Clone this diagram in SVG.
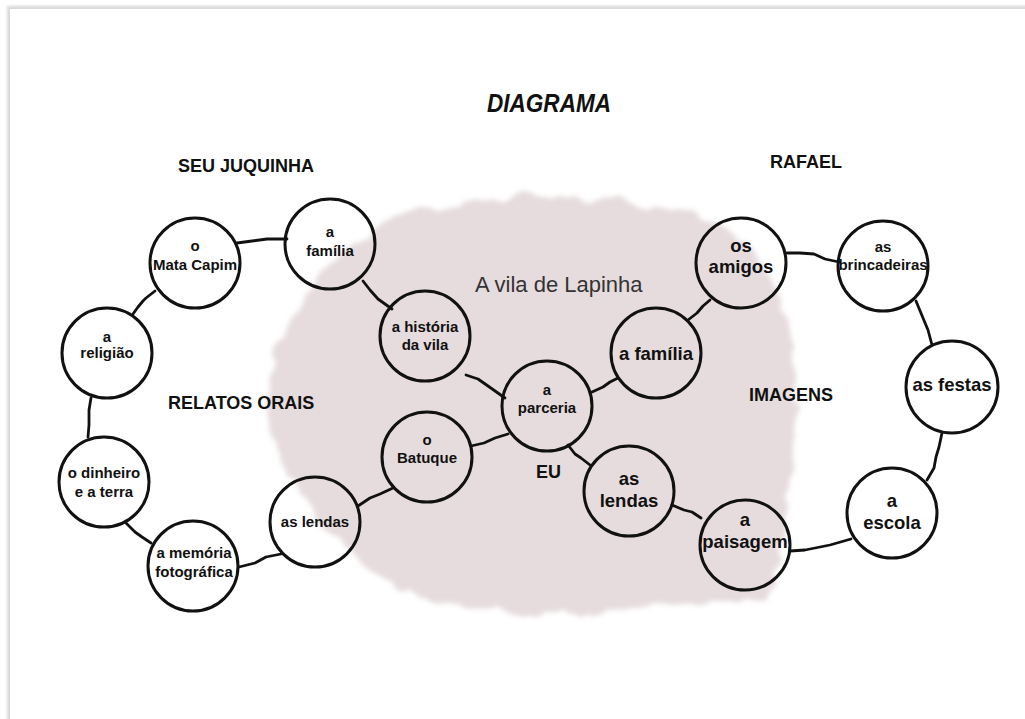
<svg xmlns="http://www.w3.org/2000/svg" width="1025" height="719" viewBox="0 0 1025 719">
<defs>
<filter id="soft" x="-10%" y="-10%" width="120%" height="120%">
<feTurbulence type="fractalNoise" baseFrequency="0.035" numOctaves="3" seed="4" result="t"/>
<feDisplacementMap in="SourceGraphic" in2="t" scale="20" xChannelSelector="R" yChannelSelector="G" result="d"/>
<feGaussianBlur in="d" stdDeviation="2.5"/>
</filter>
<filter id="sh" x="-5%" y="-5%" width="110%" height="110%"><feGaussianBlur stdDeviation="1.5"/></filter>
<style>
.n{fill:none;stroke:#111;stroke-width:3}
.c{fill:none;stroke:#111;stroke-width:2.8;stroke-linejoin:round;stroke-linecap:round}
.s{font-family:"Liberation Sans",Arial,sans-serif;font-weight:bold;font-size:15px;fill:#111;text-anchor:middle}
.b{font-family:"Liberation Sans",Arial,sans-serif;font-weight:bold;font-size:18.5px;fill:#111;text-anchor:middle}
.h{font-family:"Liberation Sans",Arial,sans-serif;font-weight:bold;font-size:18px;fill:#111}
</style>
</defs>
<rect x="0" y="0" width="1025" height="719" fill="#ffffff"/>
<rect x="7" y="6" width="1030" height="730" fill="#d8d8d8" filter="url(#sh)"/>
<rect x="10" y="9" width="1020" height="720" fill="#ffffff"/>
<path d="M385 220 C420 210 445 206 470 204 C500 196 540 194 580 198 C620 200 660 205 690 212 C720 220 745 235 765 270 C785 300 793 340 796 400 C798 450 790 500 780 540 C775 570 772 590 765 600 C730 604 690 600 650 606 C600 614 550 616 505 612 C460 608 430 602 400 592 C375 580 355 555 330 528 C305 505 285 480 277 450 C270 420 268 400 272 370 C278 325 318 265 385 220 Z" fill="#e6dcdd" filter="url(#soft)"/>
<text x="549" y="112" font-family="'Liberation Sans',Arial,sans-serif" font-weight="bold" font-style="italic" font-size="25" textLength="124" lengthAdjust="spacingAndGlyphs" text-anchor="middle" fill="#111">DIAGRAMA</text>
<text class="h" x="178" y="172">SEU JUQUINHA</text>
<text class="h" x="770" y="168">RAFAEL</text>
<text class="h" x="168" y="409">RELATOS ORAIS</text>
<text class="h" x="749" y="401">IMAGENS</text>
<text class="h" x="536" y="478" font-size="17">EU</text>
<text x="475" y="292" font-family="'Liberation Sans',Arial,sans-serif" font-size="22" fill="#333">A vila de Lapinha</text>
<g id="connectors">
<polyline class="c" points="237,243 252,241 267,239 287,239"/>
<polyline class="c" points="155,291 146,298 143,301 138,307 133,314"/>
<polyline class="c" points="91,398 89,410 89,425 88,437"/>
<polyline class="c" points="126,523 135,532 142,537 151,543"/>
<polyline class="c" points="239,567 255,563 266,557 281,554"/>
<polyline class="c" points="358,506 370,498 380,494 393,488"/>
<polyline class="c" points="363,281 370,290 378,299 392,309"/>
<polyline class="c" points="466,375 478,379 488,386 505,398"/>
<polyline class="c" points="471,446 484,443 495,438 508,434"/>
<polyline class="c" points="592,392 603,387 610,382 618,378"/>
<polyline class="c" points="688,320 697,313 703,306 710,300"/>
<polyline class="c" points="568,445 575,454 581,458 590,465"/>
<polyline class="c" points="672,505 684,510 692,512 701,518"/>
<polyline class="c" points="790,551 805,550 815,548 830,545 851,539"/>
<polyline class="c" points="927,480 934,468 936,457 939,447 942,433"/>
<polyline class="c" points="932,345 928,330 923,318 916,301"/>
<polyline class="c" points="787,253 800,253 814,254 825,259 839,262"/>
</g>
<g id="n-matacapim"><circle class="n" cx="195" cy="263" r="45"/><text class="s" x="195" y="251">o</text><text class="s" x="195" y="270">Mata Capim</text></g>
<g id="n-familia-l"><circle class="n" cx="330" cy="244" r="45"/><text class="s" x="330" y="237">a</text><text class="s" x="330" y="256">família</text></g>
<g id="n-religiao"><circle class="n" cx="107" cy="353" r="45"/><text class="s" x="107" y="342">a</text><text class="s" x="107" y="358">religião</text></g>
<g id="n-dinheiro"><circle class="n" cx="104" cy="482" r="45"/><text class="s" x="104" y="478">o dinheiro</text><text class="s" x="104" y="497">e a terra</text></g>
<g id="n-memoria"><circle class="n" cx="193" cy="566" r="45"/><text class="s" x="194" y="558">a memória</text><text class="s" x="194" y="577">fotográfica</text></g>
<g id="n-lendas-l"><circle class="n" cx="315" cy="522" r="45"/><text class="s" x="315" y="527">as lendas</text></g>
<g id="n-batuque"><circle class="n" cx="427" cy="457" r="45"/><text class="s" x="427" y="445">o</text><text class="s" x="427" y="463">Batuque</text></g>
<g id="n-historia"><circle class="n" cx="425" cy="336" r="45"/><text class="s" x="425" y="332">a história</text><text class="s" x="425" y="350">da vila</text></g>
<g id="n-parceria"><circle class="n" cx="547" cy="406" r="45"/><text class="s" x="547" y="395">a</text><text class="s" x="547" y="413">parceria</text></g>
<g id="n-familia-r"><circle class="n" cx="656" cy="353" r="45"/><text class="b" x="656" y="360">a família</text></g>
<g id="n-lendas-r"><circle class="n" cx="629" cy="491" r="45"/><text class="b" x="629" y="485">as</text><text class="b" x="629" y="507">lendas</text></g>
<g id="n-amigos"><circle class="n" cx="741" cy="263" r="45"/><text class="b" x="741" y="252">os</text><text class="b" x="741" y="273">amigos</text></g>
<g id="n-brincadeiras"><circle class="n" cx="883" cy="266" r="45"/><text class="s" x="883" y="252">as</text><text class="s" x="883" y="270">brincadeiras</text></g>
<g id="n-festas"><circle class="n" cx="952" cy="387" r="46"/><text class="b" x="952" y="391">as festas</text></g>
<g id="n-escola"><circle class="n" cx="892" cy="513" r="45"/><text class="b" x="892" y="507">a</text><text class="b" x="892" y="529">escola</text></g>
<g id="n-paisagem"><circle class="n" cx="745" cy="545" r="45"/><text class="b" x="745" y="526">a</text><text class="b" x="745" y="548">paisagem</text></g>
</svg>
